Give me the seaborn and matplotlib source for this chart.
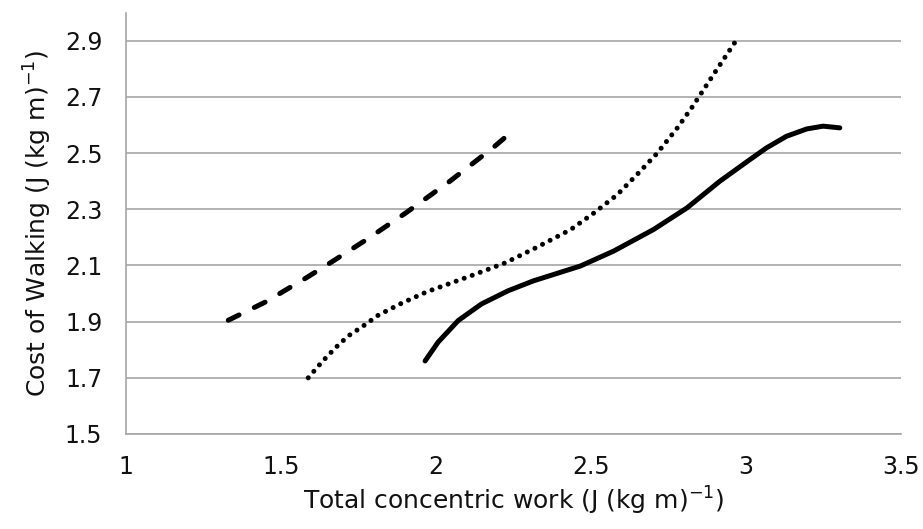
import matplotlib
matplotlib.use("Agg")
import matplotlib.pyplot as plt
import seaborn as sns
import pandas as pd

# Dashed series
dash_x = [1.33, 1.45, 1.58, 1.66, 1.78, 1.90, 2.045, 2.185, 2.22]
dash_y = [1.905, 1.97, 2.055, 2.11, 2.195, 2.285, 2.40, 2.52, 2.553]

# Dotted series
dot_x = [1.588, 1.631, 1.674, 1.717, 1.766, 1.814, 1.89, 1.97, 2.11, 2.223, 2.326, 2.435,
         2.51, 2.585, 2.65, 2.714, 2.779, 2.828, 2.898, 2.968]
dot_y = [1.70, 1.755, 1.805, 1.849, 1.885, 1.923, 1.966, 2.006, 2.062, 2.109, 2.165, 2.228,
         2.287, 2.352, 2.425, 2.50, 2.59, 2.666, 2.784, 2.90]

# Solid series
sol_x = [1.965, 2.007, 2.072, 2.147, 2.233, 2.314, 2.466, 2.573, 2.702, 2.81, 2.916, 3.013,
         3.067, 3.131, 3.196, 3.249, 3.303]
sol_y = [1.76, 1.827, 1.904, 1.963, 2.01, 2.045, 2.098, 2.151, 2.228, 2.305, 2.40, 2.477,
         2.519, 2.56, 2.586, 2.596, 2.59]

x_ticks = [1, 1.5, 2, 2.5, 3, 3.5]
y_ticks = [1.5, 1.7, 1.9, 2.1, 2.3, 2.5, 2.7, 2.9]

sns.set_style("white")
plt.rcParams['font.family'] = ['DejaVu Sans']

fig = plt.figure(figsize=(9.23, 5.29), dpi=100)
ax = fig.add_axes([0.1365, 0.1796, 0.8395, 0.7964])

df_dash = pd.DataFrame({"x": dash_x, "y": dash_y})
df_dot = pd.DataFrame({"x": dot_x, "y": dot_y})
df_sol = pd.DataFrame({"x": sol_x, "y": sol_y})

sns.lineplot(data=df_dash, x="x", y="y", ax=ax, color="black", lw=3.6,
             sort=False, estimator=None)
ax.lines[-1].set_linestyle((0, (2.4, 3.4)))
ax.lines[-1].set_dash_capstyle("round")

sns.lineplot(data=df_dot, x="x", y="y", ax=ax, color="black", lw=3.6,
             sort=False, estimator=None)
ax.lines[-1].set_linestyle((0, (0.01, 1.7)))
ax.lines[-1].set_dash_capstyle("round")

sns.lineplot(data=df_sol, x="x", y="y", ax=ax, color="black", lw=3.6,
             sort=False, estimator=None)
ax.lines[-1].set_solid_capstyle("round")
ax.lines[-1].set_solid_joinstyle("round")

ax.set_xlim(1, 3.5)
ax.set_ylim(1.5, 3.0)
ax.set_xticks(x_ticks)
ax.set_xticklabels([f"{v:g}" for v in x_ticks])
ax.set_yticks(y_ticks)
ax.set_yticklabels([f"{v:.1f}" for v in y_ticks])

ax.grid(axis="y", color="#a6a6a6", lw=1.2)
ax.set_axisbelow(True)
for s in ["top", "right"]:
    ax.spines[s].set_visible(False)
for s in ["left", "bottom"]:
    ax.spines[s].set_color("#a6a6a6")
    ax.spines[s].set_linewidth(1.2)

ax.tick_params(axis="both", which="major", direction="out", length=7,
               width=1.2, color="#a6a6a6", labelsize=17, labelcolor="#111111")
ax.tick_params(axis="y", pad=10)
ax.tick_params(axis="x", pad=8)

ax.set_xlabel("Total concentric work (J (kg m)$^{-1}$)", fontsize=18, labelpad=4,
              color="#111111")
ax.set_ylabel("Cost of Walking (J (kg m)$^{-1}$)", fontsize=18, labelpad=8,
              color="#111111")

fig.savefig("out.png", dpi=100)
